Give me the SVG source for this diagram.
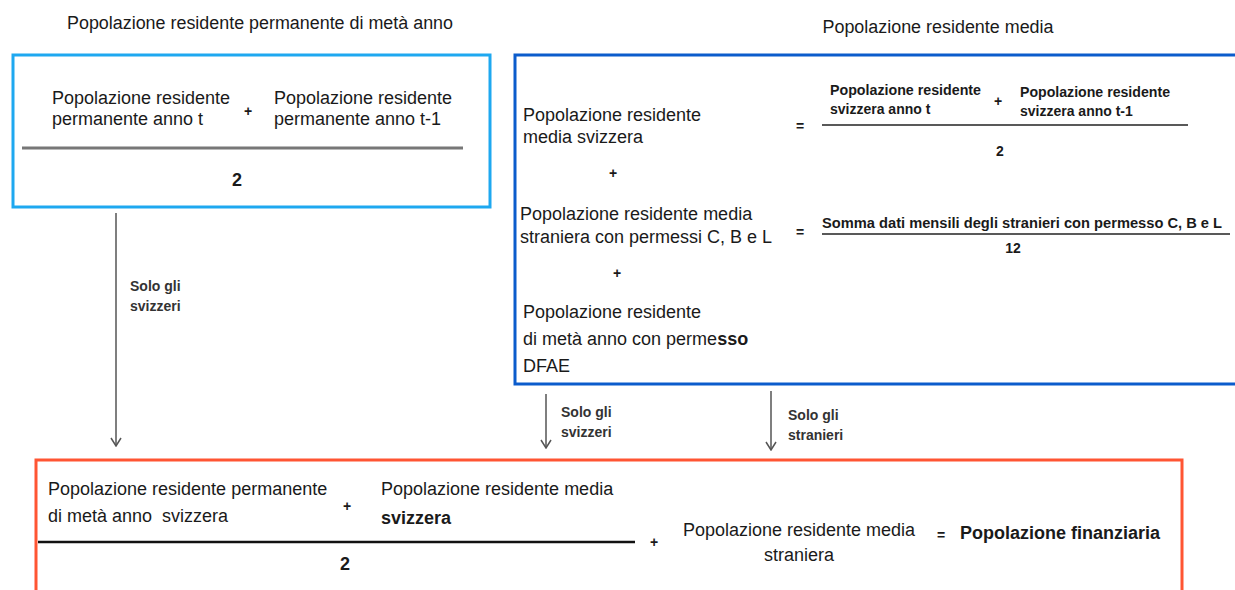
<svg xmlns="http://www.w3.org/2000/svg" width="1235" height="590" viewBox="0 0 1235 590">
<defs>
<style>
text{font-family:"Liberation Sans",Arial,sans-serif;fill:#1a1a1a}
.t{font-size:18px}
.b{font-weight:bold}
.s{font-size:14px;font-weight:bold}
.lab{font-size:14px;font-weight:bold;fill:#333}
.conn{stroke:#555;stroke-width:1.5;fill:none}
</style>
<marker id="ah" viewBox="0 0 10 12" refX="9" refY="6" markerWidth="10" markerHeight="12" markerUnits="userSpaceOnUse" orient="auto">
<path d="M1,1 L9,6 L1,11" fill="none" stroke="#555" stroke-width="1.5"/>
</marker>
</defs>
<rect width="1235" height="590" fill="#fff"/>

<g id="title1"><text class="t" x="260" y="29" text-anchor="middle" textLength="386" lengthAdjust="spacingAndGlyphs">Popolazione residente permanente di metà anno</text></g>
<g id="title2"><text class="t" x="938" y="33" text-anchor="middle" textLength="231" lengthAdjust="spacingAndGlyphs">Popolazione residente media</text></g>

<g id="box-permanente">
<rect x="13" y="55" width="477" height="152" fill="none" stroke="#1ea8f0" stroke-width="3"/>
<text class="t" x="52" y="104">Popolazione residente</text>
<text class="t" x="52" y="125">permanente anno t</text>
<text class="s" x="248" y="116" text-anchor="middle">+</text>
<text class="t" x="274" y="104">Popolazione residente</text>
<text class="t" x="274" y="125">permanente anno t-1</text>
<line x1="22" y1="148" x2="463" y2="148" stroke="#777" stroke-width="3"/>
<text class="t b" x="237" y="186" text-anchor="middle">2</text>
</g>

<g id="box-media">
<rect x="515" y="55" width="730" height="329" fill="none" stroke="#0b5ccc" stroke-width="3"/>
<text class="t" x="523" y="121">Popolazione residente</text>
<text class="t" x="523" y="143">media svizzera</text>
<text class="s" x="800" y="131" text-anchor="middle">=</text>
<text class="s" x="830" y="95" textLength="151" lengthAdjust="spacingAndGlyphs">Popolazione residente</text>
<text class="s" x="830" y="114">svizzera anno t</text>
<text class="s" x="998" y="106" text-anchor="middle">+</text>
<text class="s" x="1020" y="97" textLength="150" lengthAdjust="spacingAndGlyphs">Popolazione residente</text>
<text class="s" x="1020" y="116">svizzera anno t-1</text>
<line x1="822" y1="125" x2="1188" y2="125" stroke="#222" stroke-width="1.5"/>
<text class="s" x="1000" y="156" text-anchor="middle">2</text>
<text class="s" x="613" y="178" text-anchor="middle" fill="#777">+</text>
<text class="t" x="520" y="220">Popolazione residente media</text>
<text class="t" x="520" y="243">straniera con permessi C, B e L</text>
<text class="s" x="800" y="237" text-anchor="middle">=</text>
<text class="s" x="822" y="228" textLength="400" lengthAdjust="spacingAndGlyphs">Somma dati mensili degli stranieri con permesso C, B e L</text>
<line x1="822" y1="234" x2="1230" y2="234" stroke="#222" stroke-width="1.5"/>
<text class="s" x="1013" y="253" text-anchor="middle">12</text>
<text class="s" x="617" y="278" text-anchor="middle">+</text>
<text class="t" x="523" y="318">Popolazione residente</text>
<text class="t" x="523" y="345">di metà anno con perme<tspan class="b">sso</tspan></text>
<text class="t" x="523" y="372">DFAE</text>
</g>

<g id="box-finanziaria">
<rect x="36" y="460" width="1146" height="150" fill="none" stroke="#ff5533" stroke-width="3"/>
<text class="t" x="48" y="495">Popolazione residente permanente</text>
<text class="t" x="48" y="522">di metà anno&#160; svizzera</text>
<text class="s" x="347" y="511" text-anchor="middle">+</text>
<text class="t" x="381" y="495">Popolazione residente media</text>
<text class="t" x="381" y="524" style="font-weight:600">svizzera</text>
<line x1="38" y1="542" x2="635" y2="542" stroke="#111" stroke-width="2.5"/>
<text class="t b" x="345" y="570" text-anchor="middle">2</text>
<text class="s" x="654" y="547" text-anchor="middle">+</text>
<text class="t" x="799" y="536" text-anchor="middle">Popolazione residente media</text>
<text class="t" x="799" y="561" text-anchor="middle">straniera</text>
<text class="s" x="941" y="540" text-anchor="middle" fill="#999">=</text>
<text class="t b" x="960" y="539">Popolazione finanziaria</text>
</g>

<g id="connectors">
<line class="conn" x1="116" y1="213" x2="116" y2="446" marker-end="url(#ah)"/>
<text class="lab" x="130" y="291">Solo gli</text>
<text class="lab" x="130" y="311">svizzeri</text>
<line class="conn" x1="546" y1="394" x2="546" y2="448" marker-end="url(#ah)"/>
<text class="lab" x="561" y="417">Solo gli</text>
<text class="lab" x="561" y="437">svizzeri</text>
<line class="conn" x1="771" y1="391" x2="771" y2="450" marker-end="url(#ah)"/>
<text class="lab" x="788" y="420">Solo gli</text>
<text class="lab" x="788" y="440">stranieri</text>
</g>
</svg>
